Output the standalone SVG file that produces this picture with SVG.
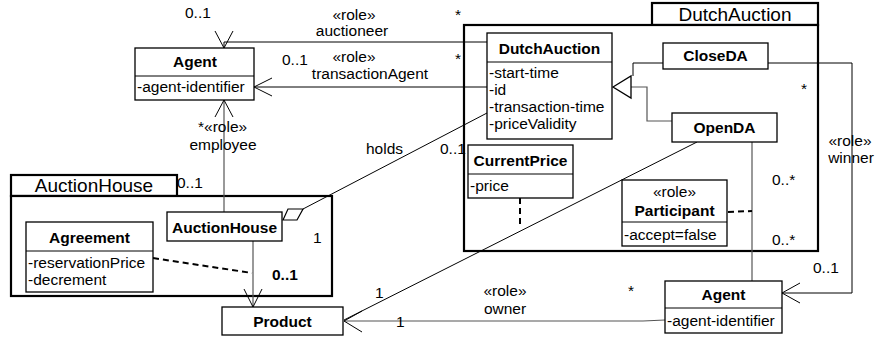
<svg xmlns="http://www.w3.org/2000/svg" width="875" height="338" viewBox="0 0 875 338">
<style>
text{font-family:"Liberation Sans",Arial,sans-serif;font-size:15.5px;fill:#000}
.b{font-weight:bold}
.c{text-anchor:middle}
.tab{font-size:19px}
.box{fill:#fff;stroke:#000;stroke-width:1.3}
.pkg{fill:#fff;stroke:#000;stroke-width:2.2}
.ln{fill:none;stroke:#000;stroke-width:1}
.gl{fill:none;stroke:#555;stroke-width:1.2}
.ds{fill:none;stroke:#000;stroke-width:2;stroke-dasharray:6,4}
</style>
<g id="pkg-AuctionHouse">
<rect class="pkg" x="11" y="175" width="166" height="21"/>
<text class="tab" x="94" y="192" text-anchor="middle">AuctionHouse</text>
<rect class="pkg" x="11" y="196" width="321" height="100"/>
</g>
<g id="pkg-DutchAuction">
<rect class="pkg" x="652" y="3" width="166" height="22"/>
<text class="tab" x="735" y="21" text-anchor="middle">DutchAuction</text>
<rect class="pkg" x="464" y="25" width="354" height="226"/>
</g>
<g id="connectors">
<polyline class="ln" points="488,42 224,42 224,48"/>
<polyline class="ln" points="215,31 224,48 233,31"/>
<line class="ln" x1="488" y1="87" x2="254" y2="87"/>
<polyline class="ln" points="272,78 254,87 272,96"/>
<line class="gl" x1="224" y1="100" x2="224" y2="212"/>
<polyline class="ln" points="215,117 224,100 233,117"/>
<line class="ln" x1="303" y1="209" x2="487" y2="113"/>
<polygon points="283,220 288,209 303,209 297,220" fill="#fff" stroke="#000" stroke-width="1.2"/>
<line class="gl" x1="253" y1="241" x2="253" y2="307"/>
<polyline class="ln" points="244,289 253,307 262,289"/>
<line class="ds" x1="153" y1="258" x2="252" y2="273"/>
<polyline class="ln" points="663,63 633,63 633,76"/>
<polyline class="gl" points="631,87 647,87 647,121 672,121"/>
<polygon points="613,87 631,76 631,98" fill="#fff" stroke="#000" stroke-width="1.3"/>
<polyline class="ln" points="768,63 852,63 852,293 782,293"/>
<polyline class="ln" points="800,283 782,293 800,303"/>
<line class="gl" x1="752" y1="142" x2="752" y2="281"/>
<line class="ds" x1="728" y1="212" x2="752" y2="211"/>
<line class="ds" x1="520" y1="198" x2="520" y2="228"/>
<line class="ln" x1="697" y1="142" x2="344" y2="320"/>
<polyline class="gl" points="344,321 643,321 665,320"/>
<polyline class="ln" points="362,311 344,321 362,332"/>
</g>
<g id="labels">
<text x="185" y="18">0..1</text>
<text x="354" y="20" class="c">«role»</text>
<text x="352" y="36" class="c">auctioneer</text>
<text x="455" y="20">*</text>
<text x="282" y="65">0..1</text>
<text x="354" y="62" class="c">«role»</text>
<text x="370" y="79" class="c">transactionAgent</text>
<text x="455" y="64">*</text>
<text x="198" y="132">*«role»</text>
<text x="223" y="150" class="c">employee</text>
<text x="366" y="154">holds</text>
<text x="440" y="154">0..1</text>
<text x="177" y="188">0..1</text>
<text x="313" y="243">1</text>
<text x="272" y="280" class="b">0..1</text>
<text x="375" y="298">1</text>
<text x="505" y="296" class="c">«role»</text>
<text x="505" y="314" class="c">owner</text>
<text x="396" y="327">1</text>
<text x="628" y="296">*</text>
<text x="772" y="185">0..*</text>
<text x="772" y="245">0..*</text>
<text x="813" y="273">0..1</text>
<text x="801" y="94">*</text>
<text x="850" y="146" class="c">«role»</text>
<text x="851" y="163" class="c">winner</text>
</g>
<g id="Agent-top">
<rect class="box" x="135" y="48" width="119" height="52"/>
<line class="ln" x1="135" y1="76" x2="254" y2="76"/>
<text x="195" y="67" class="b c">Agent</text>
<text x="137" y="92">-agent-identifier</text>
</g>
<g id="DutchAuction">
<rect class="box" x="487" y="33" width="125" height="106"/>
<line class="ln" x1="487" y1="62" x2="612" y2="62"/>
<text x="549.5" y="54" class="b c">DutchAuction</text>
<text x="489" y="78">-start-time</text>
<text x="489" y="95">-id</text>
<text x="489" y="112">-transaction-time</text>
<text x="489" y="129">-priceValidity</text>
</g>
<g id="CloseDA">
<rect class="box" x="663" y="43" width="105" height="26"/>
<text x="715.5" y="61" class="b c">CloseDA</text>
</g>
<g id="OpenDA">
<rect class="box" x="672" y="113" width="105" height="29"/>
<text x="724.5" y="133" class="b c">OpenDA</text>
</g>
<g id="CurrentPrice">
<rect class="box" x="468" y="145" width="105" height="53"/>
<line class="ln" x1="468" y1="174" x2="573" y2="174"/>
<text x="520.5" y="166" class="b c">CurrentPrice</text>
<text x="470" y="191">-price</text>
</g>
<g id="Participant">
<rect class="box" x="622" y="180" width="105" height="66"/>
<line class="ln" x1="622" y1="222" x2="727" y2="222"/>
<text x="674.5" y="197" class="c">«role»</text>
<text x="674.5" y="216" class="b c">Participant</text>
<text x="624" y="240">-accept=false</text>
</g>
<g id="Agent-bottom">
<rect class="box" x="665" y="281" width="117" height="52"/>
<line class="ln" x1="665" y1="308" x2="782" y2="308"/>
<text x="723.5" y="300" class="b c">Agent</text>
<text x="667" y="326">-agent-identifier</text>
</g>
<g id="AuctionHouse">
<rect class="box" x="167" y="212" width="115" height="29"/>
<text x="224.5" y="233" class="b c">AuctionHouse</text>
</g>
<g id="Agreement">
<rect class="box" x="26" y="222" width="127" height="70"/>
<line class="ln" x1="26" y1="251" x2="153" y2="251"/>
<text x="89.5" y="243" class="b c">Agreement</text>
<text x="28" y="268">-reservationPrice</text>
<text x="28" y="285">-decrement</text>
</g>
<g id="Product">
<rect class="box" x="222" y="307" width="121" height="28"/>
<text x="282.5" y="327" class="b c">Product</text>
</g>
</svg>
